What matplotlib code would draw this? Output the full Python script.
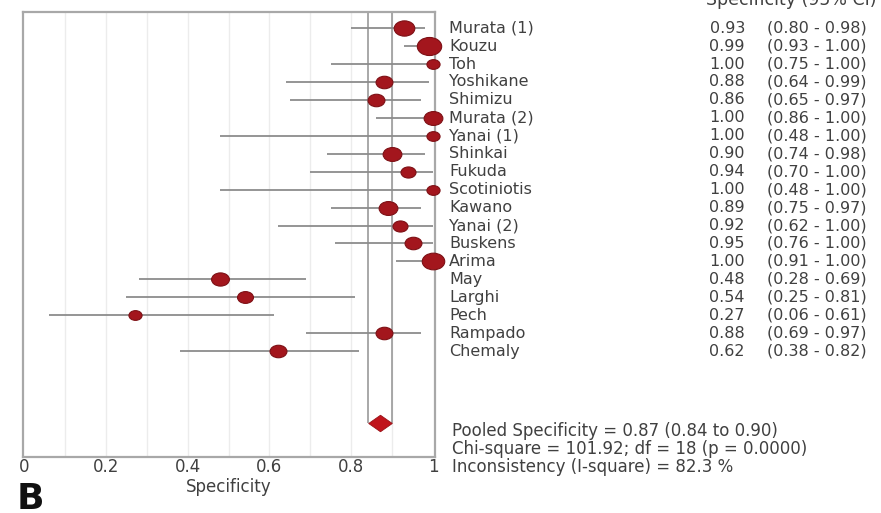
import matplotlib
matplotlib.use("Agg")
from matplotlib import pyplot as plt
from matplotlib.markers import MarkerStyle
from matplotlib.transforms import Affine2D, blended_transform_factory
from matplotlib.path import Path
import numpy as np

# study data
studies = ["Murata (1)", "Kouzu", "Toh", "Yoshikane", "Shimizu", "Murata (2)",
           "Yanai (1)", "Shinkai", "Fukuda", "Scotiniotis", "Kawano", "Yanai (2)",
           "Buskens", "Arima", "May", "Larghi", "Pech", "Rampado", "Chemaly"]
spec = [0.93, 0.99, 1.00, 0.88, 0.86, 1.00, 1.00, 0.90, 0.94, 1.00,
        0.89, 0.92, 0.95, 1.00, 0.48, 0.54, 0.27, 0.88, 0.62]
ci_lo = [0.80, 0.93, 0.75, 0.64, 0.65, 0.86, 0.48, 0.74, 0.70, 0.48,
         0.75, 0.62, 0.76, 0.91, 0.28, 0.25, 0.06, 0.69, 0.38]
ci_hi = [0.98, 1.00, 1.00, 0.99, 0.97, 1.00, 1.00, 0.98, 1.00, 1.00,
         0.97, 1.00, 1.00, 1.00, 0.69, 0.81, 0.61, 0.97, 0.82]
# marker size (study weight)
weight = [11, 13, 7, 9, 9, 10, 7, 10, 8, 7, 10, 8, 9, 12, 9.5, 8.5, 7, 9, 9]

pooled = 0.87
pooled_lo = 0.84
pooled_hi = 0.90
stats_lines = ["Pooled Specificity = 0.87 (0.84 to 0.90)",
               "Chi-square = 101.92; df = 18 (p = 0.0000)",
               "Inconsistency (I-square) = 82.3 %"]
xticks = [0, 0.2, 0.4, 0.6, 0.8, 1]

plt.rcParams['font.family'] = ['DejaVu Sans']
txt = '#404040'
red = '#a3161d'

fig = plt.figure(figsize=(8.81, 5.13), dpi=100)
ax = fig.add_axes([23/881, 1-457/513, 412/881, 445/513])

n = len(studies)
rows = np.arange(n)
pooled_row = n + 3

for x in np.arange(0.1, 1.0, 0.1):
    ax.axvline(x, color='#ececec', lw=1, zorder=0)

# pooled CI lines
ax.vlines([pooled_lo, pooled_hi], -1, pooled_row, color='#9a9a9a', lw=1.2, zorder=1)

ax.hlines(rows, ci_lo, ci_hi, color='#8c8c8c', lw=1.3, zorder=2)
oval = MarkerStyle('o', transform=Affine2D().scale(1.35, 1.0))
for i in range(n):
    ax.plot(spec[i], rows[i], marker=oval, ms=weight[i], color=red,
            mec='#7d1015', mew=0.8, zorder=3, clip_on=False)

diamond = Path([(-1, 0), (0, 0.7), (1, 0), (0, -0.7), (-1, 0)],
               [Path.MOVETO, Path.LINETO, Path.LINETO, Path.LINETO, Path.CLOSEPOLY])
ax.plot(pooled, pooled_row, marker=diamond, ms=17, color='#c0141c',
        mec='#9a1218', mew=0.6, zorder=3)

ax.set_xlim(-0.003, 1.005)
ax.set_ylim(23.9, -0.9)
ax.set_yticks([])
ax.set_xticks(xticks)
ax.set_xticklabels(["0", "0.2", "0.4", "0.6", "0.8", "1"])
ax.tick_params(axis='x', length=0, pad=1, labelsize=12, labelcolor=txt)
ax.set_xlabel("Specificity", fontsize=12, color=txt, labelpad=1)
for s in ax.spines.values():
    s.set_color('#a8a8a8')
    s.set_linewidth(1.6)

tr = blended_transform_factory(fig.transFigure, ax.transData)
for i in range(n):
    ax.text(449/881, rows[i], studies[i], transform=tr, fontsize=11.5,
            color=txt, va='center', ha='left')
    ax.text(745/881, rows[i], "%.2f" % spec[i], transform=tr, fontsize=11.5,
            color=txt, va='center', ha='right')
    ax.text(767/881, rows[i], "(%.2f - %.2f)" % (ci_lo[i], ci_hi[i]),
            transform=tr, fontsize=11.5, color=txt, va='center', ha='left')

for k, line in enumerate(stats_lines):
    ax.text(452/881, pooled_row + 0.45 + k, line, transform=tr,
            fontsize=12, color=txt, va='center', ha='left')

fig.text(877/881, 1-5/513, "Specificity (95% CI)", fontsize=12.5, color=txt,
         ha='right', va='baseline')
fig.text(17/881, 4/513, "B", fontsize=26, fontweight='bold',
         color='#111111', ha='left', va='baseline')

fig.savefig("out.png", dpi=100)
